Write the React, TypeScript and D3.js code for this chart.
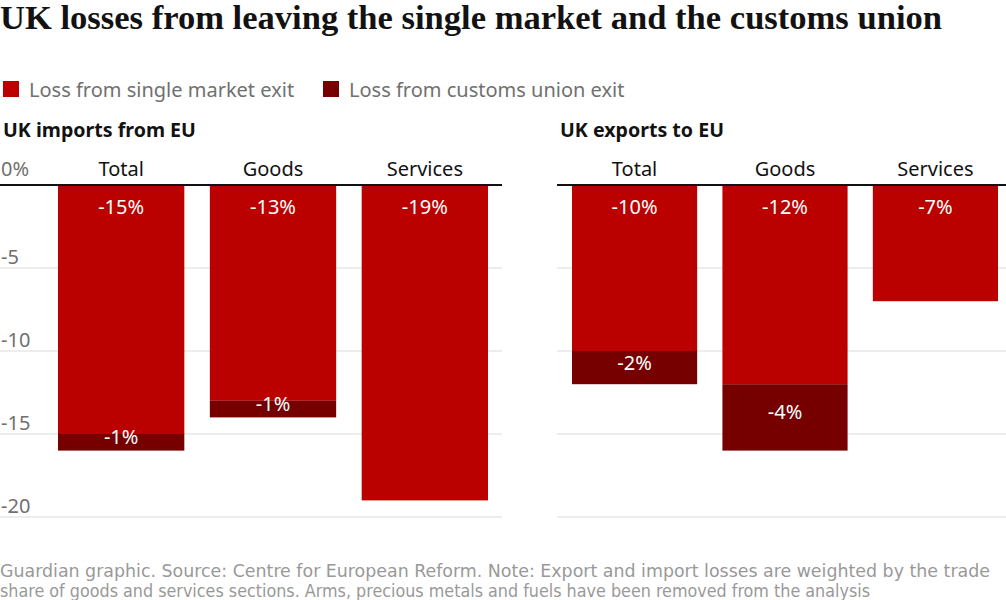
import * as d3 from 'd3'

const categories = ['Total', 'Goods', 'Services']
const importsSingle = [-15, -13, -19]
const importsCustoms = [-1, -1, 0]
const exportsSingle = [-10, -12, -7]
const exportsCustoms = [-2, -4, 0]
const yTicks = [0, -5, -10, -15, -20]

const RED = '#bb0000'
const DARK = '#760000'
const GREY = '#707070'
const SANS = '"Noto Sans", "Open Sans", sans-serif'

const y = d3.scaleLinear().domain([0, -20]).range([185, 517])

type PanelProps = {
  title: string
  x0: number
  x1: number
  barRange: [number, number]
  single: number[]
  customs: number[]
  showAxis: boolean
}

function Panel({ title, x0, x1, barRange, single, customs, showAxis }: PanelProps) {
  const x = d3.scaleBand().domain(categories).range(barRange).paddingInner(0.168)
  const fmt = (v: number) => `${v}%`

  return (
    <g>
      <text x={x0 + 3} y={137} fontFamily={SANS} fontWeight={700} fontSize={19.6} fill="#121212">
        {title}
      </text>
      {yTicks.filter(t => t !== 0).map(t => (
        <line key={t} x1={x0} x2={x1} y1={y(t)} y2={y(t)} stroke="#dcdcdc" strokeWidth={1.2} />
      ))}
      {showAxis && yTicks.map(t => (
        <text key={t} x={x0 + 1} y={t === 0 ? y(t) - 9 : y(t) - 4} fontFamily={SANS} fontSize={20} fill={GREY}>
          {t === 0 ? '0%' : t}
        </text>
      ))}
      {categories.map((c, i) => {
        const bx = x(c)!
        const w = x.bandwidth()
        const s = single[i]
        const cu = customs[i]
        const total = s + cu
        return (
          <g key={c}>
            <text x={bx + w / 2} y={y(0) - 9} textAnchor="middle" fontFamily={SANS} fontSize={20} fill="#121212">
              {c}
            </text>
            <rect x={bx} y={y(0)} width={w} height={y(s) - y(0)} fill={RED} />
            {cu !== 0 && (
              <rect x={bx} y={y(s)} width={w} height={y(total) - y(s)} fill={DARK} />
            )}
            <text x={bx + w / 2} y={y(0) + 29} textAnchor="middle" fontFamily={SANS} fontSize={20} fill="#fff">
              {fmt(s)}
            </text>
            {cu !== 0 && (
              <text x={bx + w / 2} y={(y(s) + y(total)) / 2 + 2} textAnchor="middle" fontFamily={SANS} fontSize={20} fill="#fff">
                {fmt(cu)}
              </text>
            )}
          </g>
        )
      })}
      <line x1={x0} x2={x1} y1={y(0)} y2={y(0)} stroke="#121212" strokeWidth={2} />
    </g>
  )
}

export default function App() {
  return (
    <svg width={1006} height={600} style={{ position: 'absolute', left: 0, top: 0, background: '#fff' }}>
      <text x={0} y={29} fontFamily='"Liberation Serif", "DejaVu Serif", serif' fontWeight={700} fontSize={33} fill="#121212"
        textLength={942} lengthAdjust="spacingAndGlyphs">
        UK losses from leaving the single market and the customs union
      </text>

      <rect x={3} y={81} width={16} height={16} fill={RED} />
      <text x={29} y={97} fontFamily={SANS} fontSize={20} fill={GREY}>Loss from single market exit</text>
      <rect x={323} y={81} width={16} height={16} fill={DARK} />
      <text x={349} y={97} fontFamily={SANS} fontSize={20} fill={GREY}>Loss from customs union exit</text>

      <Panel title="UK imports from EU" x0={0} x1={502} barRange={[58, 488]}
        single={importsSingle} customs={importsCustoms} showAxis />
      <Panel title="UK exports to EU" x0={557} x1={1006} barRange={[572, 998]}
        single={exportsSingle} customs={exportsCustoms} showAxis={false} />

      <text x={0} y={577} fontFamily='"DejaVu Sans Condensed", "Liberation Sans Narrow", sans-serif' fontSize={18} fill="#999"
        textLength={990} lengthAdjust="spacingAndGlyphs">
        Guardian graphic. Source: Centre for European Reform. Note: Export and import losses are weighted by the trade
      </text>
      <text x={0} y={597} fontFamily='"DejaVu Sans Condensed", "Liberation Sans Narrow", sans-serif' fontSize={18} fill="#999"
        textLength={870} lengthAdjust="spacingAndGlyphs">
        share of goods and services sections. Arms, precious metals and fuels have been removed from the analysis
      </text>
    </svg>
  )
}
